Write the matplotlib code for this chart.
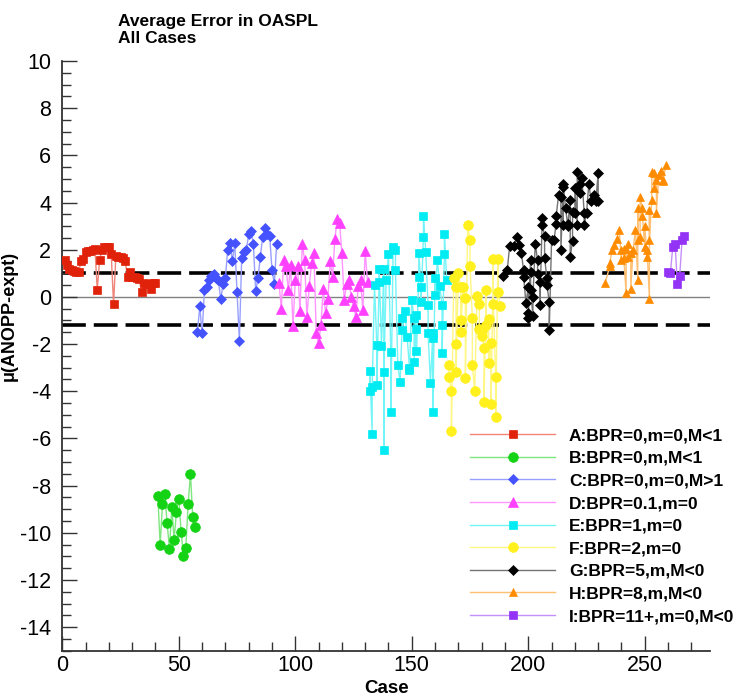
import matplotlib
matplotlib.use('Agg')
import matplotlib.pyplot as plt
from matplotlib.lines import Line2D
from matplotlib.ticker import MultipleLocator
from matplotlib.colors import to_rgb

plt.rcParams['font.family'] = ['Liberation Sans', 'DejaVu Sans']
plt.rcParams['axes.unicode_minus'] = False

# ---------------- data ----------------
labels = ['A:BPR=0,m=0,M<1', 'B:BPR=0,m,M<1', 'C:BPR=0,m=0,M>1', 'D:BPR=0.1,m=0',
          'E:BPR=1,m=0', 'F:BPR=2,m=0', 'G:BPR=5,m,M<0', 'H:BPR=8,m,M<0',
          'I:BPR=11+,m=0,M<0']

A_case = list(range(1, 41))
A_val = [1.55, 1.35, 1.2, 1.15, 1.1, 1.05, 1.05, 1.5, 1.6, 1.9, 1.95, 1.95, 2.0, 2.05, 0.3,
         1.55, 2.0, 2.1, 2.1, 2.1, 1.8, -0.3, 1.75, 1.7, 1.7, 1.65, 1.5, 0.85, 1.05, 0.85,
         0.85, 0.8, 0.75, 0.2, 0.6, 0.55, 0.55, 0.35, 0.6, 0.6]

B_case = list(range(41, 58))
B_val = [-8.45, -10.5, -8.8, -8.35, -9.6, -10.7, -8.9, -10.3, -9.1, -8.55, -9.95, -11.0,
         -10.65, -8.8, -7.5, -9.35, -9.75]

C_case = list(range(58, 93))
C_val = [-1.5, -0.4, -1.55, 0.3, 0.4, 0.7, 0.9, 0.95, 0.8, 0.7, -0.1, 0.55, 0.8, 2.0, 2.3,
         1.5, 2.3, 0.2, -1.85, 1.65, 1.9, 2.0, 2.65, 2.8, 2.25, 0.25, 0.8, 1.7, 2.55, 2.9,
         2.65, 2.6, 1.15, 0.55, 2.25]

D_case = list(range(93, 132))
D_val = [0.6, -0.5, 1.55, 1.3, 0.3, 1.35, -1.25, 0.7, 1.3, -0.6, 2.25, 1.55, -0.85, 0.45,
         1.45, 1.85, -1.55, -1.95, -1.2, 0.35, -0.7, -0.1, 1.5, 0.85, 2.45, 3.3, 3.15, 1.85,
         -0.15, 0.55, 0.7, 0.0, -0.4, -0.85, 0.45, 0.7, -0.55, 1.95, 0.65]

E_case = [132, 132, 133, 133, 134, 135, 135, 136, 136, 137, 138, 138, 138, 139, 140, 141,
          141, 142, 143, 143, 144, 145, 146, 146, 147, 148, 149, 149, 150, 151, 151, 152,
          152, 152, 153, 153, 154, 154, 155, 155, 156, 157, 157, 158, 159, 159, 159, 160,
          160, 161, 162, 163, 163, 163, 164, 164, 165]
E_val = [-4.0, -3.15, -5.8, -3.8, 0.5, -2.05, -3.75, 0.65, 1.2, -2.1, 1.2, -6.5, -3.2, 0.7,
         1.8, -2.35, -4.9, 2.1, 2.0, 1.15, -2.9, -3.6, -0.9, -1.4, -0.6, -1.7, -3.0, -3.1,
         -0.15, -0.9, -2.75, -0.75, -1.35, -2.3, 0.85, 1.85, 0.4, -0.2, 2.55, 3.45, 1.9,
         -0.35, -1.55, -3.65, -1.55, -1.75, -4.9, 0.8, 0.1, 1.55, 0.45, -0.35, -1.2, -2.4,
         1.8, 2.65, 0.7]

F_case = [166, 166, 167, 167, 168, 169, 169, 169, 170, 171, 171, 171, 172, 173, 173, 174,
          175, 175, 176, 176, 177, 178, 179, 179, 180, 180, 181, 181, 182, 182, 183, 183,
          184, 184, 185, 185, 186, 186, 187, 187, 188]
F_val = [-2.9, -3.4, -4.0, -5.7, 0.8, 0.4, -2.0, -3.2, 1.0, 0.4, -1.0, -1.5, 0.4, -0.05,
         -3.45, 3.05, 2.4, 1.3, -0.9, -2.9, -4.0, 0.05, -0.3, -1.35, -1.65, -1.45, -2.15,
         -4.45, 0.3, -1.2, -0.95, -2.8, -1.95, -4.55, 1.6, -0.3, -3.4, -5.1, 1.6, 0.2, -0.4]

G_case = [189, 191, 192, 194, 195, 196, 197, 198, 198, 199, 200, 200, 200, 201, 201, 201,
          202, 202, 203, 204, 204, 205, 205, 206, 206, 207, 207, 208, 208, 209, 209, 210,
          211, 212, 212, 213, 214, 214, 215, 215, 215, 216, 217, 217, 218, 218, 219, 219,
          220, 220, 221, 221, 222, 222, 223, 224, 224, 225, 226, 227, 228, 229, 230, 230]
G_val = [0.9, 1.15, 2.15, 2.15, 2.55, 2.2, 1.85, 1.15, 0.85, -0.25, 0.4, -0.7, -0.9, 1.55,
         1.05, 0.3, -0.8, 0.0, 2.25, 1.55, 0.95, 0.65, -0.35, 3.35, 3.05, 2.6, 1.65, 0.8, 0.5,
         -0.2, -1.4, 2.4, 2.4, 3.1, 3.45, 4.3, 4.25, 2.0, 4.65, 3.05, 4.8, 3.75, 3.0, 3.1,
         4.1, 1.7, 2.35, 3.6, 3.55, 4.6, 3.05, 5.3, 4.8, 4.4, 5.05, 3.55, 3.05, 3.55, 4.8,
         4.05, 4.3, 4.05, 5.25, 4.05]

H_case = [233, 235, 235, 236, 237, 238, 239, 240, 240, 241, 241, 242, 242, 243, 243, 244,
          244, 245, 246, 247, 247, 247, 248, 248, 249, 249, 250, 250, 251, 251, 252, 252,
          252, 253, 253, 254, 254, 255, 255, 256, 257, 258, 258, 259]
H_val = [0.6, 1.3, 1.45, 2.0, 2.2, 2.45, 2.85, 1.55, 2.0, 2.05, 1.65, 0.15, 2.05, 2.25, 1.7,
         1.85, 0.35, 2.0, 2.85, 0.7, 3.75, 2.4, 2.55, 4.25, 3.75, 3.45, 2.1, 3.0, 1.7, 2.0,
         -0.1, 3.7, 2.4, 4.1, 5.3, 5.25, 4.6, 4.95, 3.55, 5.15, 5.35, 4.9, 4.95, 5.6]

I_case = [260, 261, 262, 263, 264, 265, 266, 267]
I_val = [1.05, 1.0, 2.1, 2.25, 0.55, 0.9, 2.4, 2.6]

error_band = [1.0, -1.2]

# ---------------- styles ----------------
colors = ['#e0220a', '#14d214', '#4452ff', '#ff40ff', '#00ecf2', '#fff01e', '#000000',
          '#ff8c00', '#9333f5']
markers = ['s', 'o', 'D', '^', 's', 'o', 'D', '^', 's']
msizes = [6.0, 7.0, 5.0, 6.5, 5.5, 7.0, 5.0, 6.2, 6.0]
cases = [A_case, B_case, C_case, D_case, E_case, F_case, G_case, H_case, I_case]
vals = [A_val, B_val, C_val, D_val, E_val, F_val, G_val, H_val, I_val]


def lighter(c, f=0.45):
    r, g, b = to_rgb(c)
    return (r + (1 - r) * f, g + (1 - g) * f, b + (1 - b) * f)


W, H = 755, 696
fig = plt.figure(figsize=(W / 100, H / 100), dpi=100)
ax_bottom, ax_top = 650.7, 61.0
ax = fig.add_axes([62.3 / W, 1 - ax_bottom / H, (710 - 62.3) / W, (ax_bottom - ax_top) / H])

ax.axhline(0, color='#808080', lw=1.0, zorder=1)
for yb in error_band:
    ax.axhline(yb, color='black', lw=2.6, ls=(0, (6.6, 2.2)), zorder=1.5)

handles = []
for c, m, ms, x, y, lab in zip(colors, markers, msizes, cases, vals, labels):
    lc = lighter(c)
    ax.plot(x, y, color=lc, lw=1.0, zorder=2)
    ax.plot(x, y, ls='none', marker=m, ms=ms, mfc=c, mec=c, mew=0.5, zorder=3)
    handles.append(Line2D([], [], color=lc, lw=1.0, marker=m, ms=ms, mfc=c, mec=c, mew=0.5))

ax.set_xlim(0, 278)
ax.set_ylim(-15, 10)
ax.xaxis.set_major_locator(MultipleLocator(50))
ax.xaxis.set_minor_locator(MultipleLocator(10))
ax.yaxis.set_major_locator(MultipleLocator(2))
ax.yaxis.set_minor_locator(MultipleLocator(0.5))
ax.tick_params(which='major', direction='in', length=11, width=1.0, color='#333333',
               labelsize=15.5)
ax.tick_params(which='minor', direction='in', length=6.5, width=1.0, color='#333333')
ax.tick_params(axis='y', which='major', pad=8)
ax.tick_params(axis='x', which='major', pad=3)
for s in ['top', 'right']:
    ax.spines[s].set_visible(False)
for s in ['left', 'bottom']:
    ax.spines[s].set_linewidth(1.3)
    ax.spines[s].set_color('#333333')

ax.set_xlabel('Case', fontsize=13.5, fontweight='bold', labelpad=3)
ax.set_ylabel('μ(ANOPP-expt)', fontsize=13, fontweight='bold')
ax.yaxis.set_label_coords((18 - 62.3) / (710 - 62.3), (ax_bottom - 316) / (ax_bottom - ax_top))

fig.text(118 / W, 1 - 26 / H, 'Average Error in OASPL', fontsize=12.5, fontweight='bold',
         va='baseline', ha='left')
fig.text(118 / W, 1 - 43 / H, 'All Cases', fontsize=12.5, fontweight='bold',
         va='baseline', ha='left')

fig.legend(handles, labels, loc='upper left', bbox_to_anchor=(470 / W, 1 - 428 / H),
           bbox_transform=fig.transFigure, frameon=False, borderpad=0, borderaxespad=0,
           handlelength=4.9, handletextpad=0.8, labelspacing=0.43,
           prop={'size': 12.5, 'weight': 'bold'}, numpoints=1)

fig.savefig('out.png', dpi=100)
